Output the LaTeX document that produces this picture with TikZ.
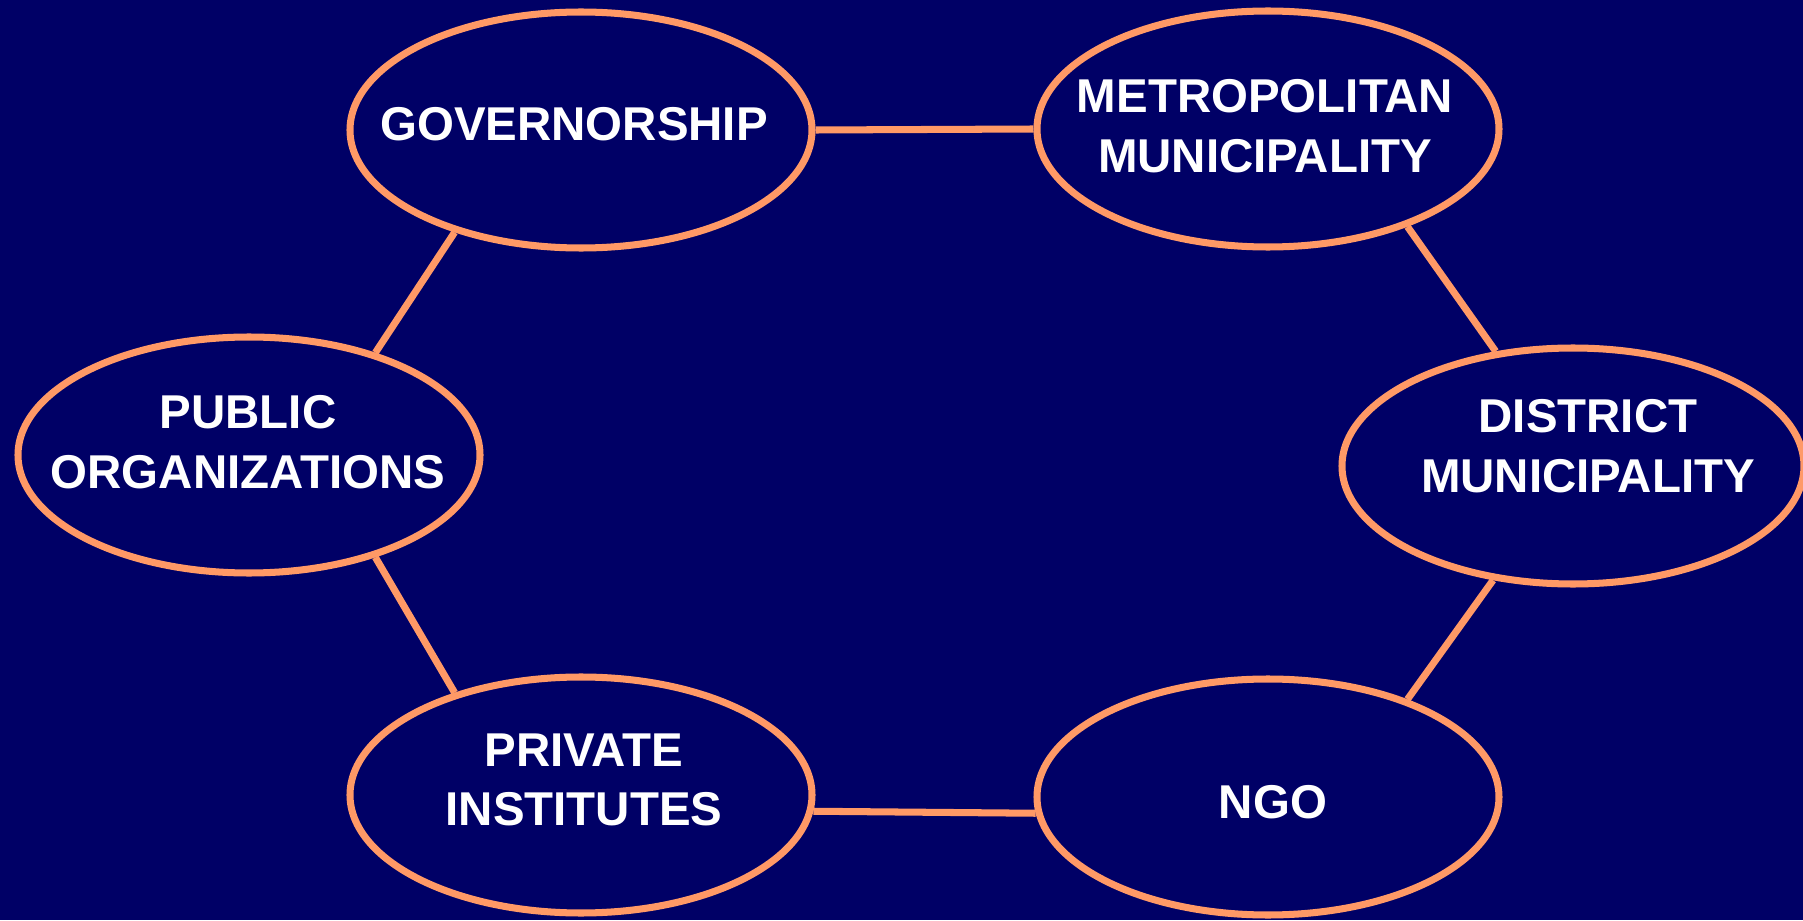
\documentclass[tikz,border=0pt]{standalone}
\usepackage{fontspec}
\setmainfont{Liberation Sans}
\usetikzlibrary{shapes.geometric}
\definecolor{fond}{RGB}{0,0,102}
\definecolor{orange}{RGB}{255,153,102}
\tikzset{
	bulle/.style={ellipse, draw=orange, line width=2pt, minimum width=4.62cm, minimum height=2.36cm, inner sep=0pt},
	texte/.style={text=white, align=center, font=\fontsize{13.5}{17}\selectfont\bfseries, inner sep=0pt},
	lien/.style={draw=orange, line width=2pt}
}
\begin{document}
\begin{tikzpicture}
	% le fond
	\useasboundingbox (0,0) rectangle (18.03,9.2);
	\fill [fond] (0,0) rectangle (18.03,9.2);
	% les bulles
	\node[bulle] (gov) at (5.81,7.90) {};
	\node[bulle] (metro) at (12.68,7.91) {};
	\node[bulle] (public) at (2.49,4.65) {};
	\node[bulle] (district) at (15.73,4.54) {};
	\node[bulle] (private) at (5.81,1.25) {};
	\node[bulle] (ngo) at (12.68,1.23) {};
	% les textes
	\node[texte] (gov-t) at (5.74,7.96) {GOVERNORSHIP};
	\node[texte] (metro-t) at (12.65,7.935) {METROPOLITAN\\MUNICIPALITY};
	\node[texte] (public-t) at (2.48,4.78) {PUBLIC\\ORGANIZATIONS};
	\node[texte] (district-t) at (15.88,4.74) {DISTRICT\\MUNICIPALITY};
	\node[texte] (private-t) at (5.84,1.40) {PRIVATE\\INSTITUTES};
	\node[texte] (ngo-t) at (12.73,1.18) {NGO};
	% les liens
	\draw[lien] (gov.east) -- (metro.west);
	\draw[lien] (metro.-35) -- (district.124);
	\draw[lien] (district.235) -- (ngo.35);
	\draw[lien] (ngo.184) -- (private.-4);
	\draw[lien] (private.141) -- (public.-39);
	\draw[lien] (public.39) -- (gov.219);
\end{tikzpicture}
\end{document}
